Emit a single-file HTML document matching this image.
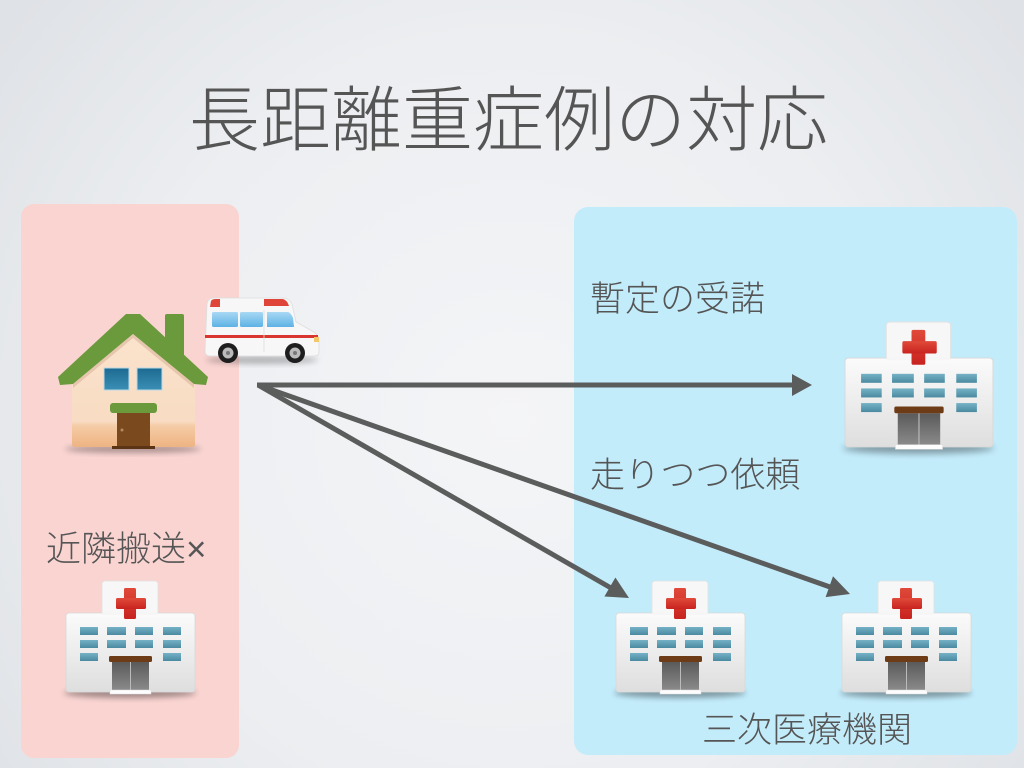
<!DOCTYPE html>
<html><head><meta charset="utf-8"><style>
html,body{margin:0;padding:0;width:1024px;height:768px;overflow:hidden;}
svg{display:block;}
text{font-family:"Liberation Sans","Noto Sans CJK JP",sans-serif;fill:#555;font-weight:300;}
</style></head><body>
<svg width="1024" height="768" viewBox="0 0 1024 768" xmlns="http://www.w3.org/2000/svg">
<defs>
<radialGradient id="bg" cx="512" cy="420" r="640" gradientUnits="userSpaceOnUse">
<stop offset="0" stop-color="#f4f5f7"/><stop offset="0.6" stop-color="#eceef1"/><stop offset="1" stop-color="#dfe2e6"/>
</radialGradient>
<linearGradient id="hb" x1="0" y1="0" x2="0" y2="1"><stop offset="0" stop-color="#fbfbfb"/><stop offset="1" stop-color="#dedede"/></linearGradient>
<linearGradient id="hw" x1="0" y1="0" x2="0" y2="1"><stop offset="0" stop-color="#75b2c6"/><stop offset="1" stop-color="#4a8aa0"/></linearGradient>
<linearGradient id="hd" x1="0" y1="0" x2="0" y2="1"><stop offset="0" stop-color="#5a5a5a"/><stop offset="1" stop-color="#8a8a8a"/></linearGradient>
<linearGradient id="hc" x1="0" y1="0" x2="0" y2="1"><stop offset="0" stop-color="#e04a3a"/><stop offset="1" stop-color="#c8231f"/></linearGradient>
<linearGradient id="wall" gradientUnits="userSpaceOnUse" x1="0" y1="330" x2="0" y2="447"><stop offset="0" stop-color="#fbe3cd"/><stop offset="0.78" stop-color="#f8dcc3"/><stop offset="0.82" stop-color="#f5cca6"/><stop offset="1" stop-color="#eeb382"/></linearGradient>
<linearGradient id="hwin" x1="0" y1="0" x2="0" y2="1"><stop offset="0" stop-color="#1d6a92"/><stop offset="1" stop-color="#3a8fb5"/></linearGradient>
<linearGradient id="awin" x1="0" y1="0" x2="0" y2="1"><stop offset="0" stop-color="#a8d8f4"/><stop offset="1" stop-color="#5eb2e4"/></linearGradient>
<filter id="sh" x="-20%" y="-50%" width="140%" height="200%"><feGaussianBlur stdDeviation="3"/></filter>
<g id="hosp">
<ellipse cx="64" cy="112" rx="66" ry="5" fill="#000" opacity="0.35" filter="url(#sh)"/>
<rect x="36" y="0" width="56" height="40" rx="3" fill="#f7f7f7" stroke="#e2e2e2" stroke-width="0.8"/>
<rect x="0" y="32" width="129" height="79" rx="3" fill="url(#hb)" stroke="#d8d8d8" stroke-width="0.8"/>
<rect x="36.4" y="31" width="55.2" height="3" fill="#f6f6f6"/>
<rect x="58" y="7" width="12" height="31" rx="1.5" fill="url(#hc)"/>
<rect x="50" y="17" width="30" height="11" rx="1.5" fill="url(#hc)"/>
<g fill="url(#hw)">
<rect x="14" y="46" width="18" height="8"/><rect x="41" y="46" width="19" height="8"/><rect x="69" y="46" width="18" height="8"/><rect x="97" y="46" width="18" height="8"/>
<rect x="14" y="59" width="18" height="8"/><rect x="41" y="59" width="19" height="8"/><rect x="69" y="59" width="18" height="8"/><rect x="97" y="59" width="18" height="8"/>
<rect x="14" y="72" width="18" height="8"/><rect x="97" y="72" width="18" height="8"/>
</g>
<rect x="46" y="81" width="37" height="28" fill="url(#hd)"/>
<line x1="64.5" y1="81" x2="64.5" y2="109" stroke="#bbb" stroke-width="1"/>
<rect x="43" y="75" width="43" height="6" rx="1.5" fill="#6e3b17"/>
<rect x="44" y="109" width="41" height="4" fill="#fdfdfd" stroke="#ddd" stroke-width="0.5"/>
</g>
</defs>
<rect width="1024" height="768" fill="url(#bg)"/>
<rect x="21" y="204" width="218" height="554" rx="13" fill="#f9d4d1"/>
<rect x="574" y="207" width="443" height="548" rx="14" fill="#c3ecfb"/>

<text x="189" y="145" font-size="71">長距離重症例の対応</text>

<!-- House -->
<g>
<ellipse cx="133" cy="449" rx="68" ry="4" fill="#000" opacity="0.3" filter="url(#sh)"/>
<rect x="165" y="314" width="19" height="50" rx="2" fill="#6a9a3c"/>
<path d="M72,385 L133,330 L195,385 L195,444 Q195,447 192,447 L75,447 Q72,447 72,444 Z" fill="url(#wall)"/>
<polygon points="58,377 126,314 140,314 208,377 206,385 194,384 133,334 73,384 60,385" fill="#6a9a3c"/>
<polygon points="73,384 133,334 194,384 194,388 133,338 73,388" fill="#d8b49a" opacity="0.6"/>
<rect x="104" y="368" width="25" height="22" fill="url(#hwin)" stroke="#bcd8e6" stroke-width="1"/>
<rect x="137" y="368" width="25" height="22" fill="url(#hwin)" stroke="#bcd8e6" stroke-width="1"/>
<rect x="117" y="412" width="33" height="36" fill="#7a4a1e"/>
<circle cx="122" cy="430" r="1.5" fill="#b08a60"/>
<rect x="110" y="403" width="47" height="10" rx="3" fill="#6a9a3c"/>
<rect x="112" y="446" width="43" height="3" fill="#5a3414"/>
</g>

<!-- Ambulance -->
<g>
<ellipse cx="262" cy="360" rx="56" ry="4" fill="#000" opacity="0.25" filter="url(#sh)"/>
<path d="M207,304 Q208,298 214,298 L283,298 Q289,298 292,304 L296,322 L314,332 Q319,335 319,342 L319,352 Q319,356 314,356 L210,356 Q205,356 205,351 Z" fill="#f7f7f7" stroke="#ddd" stroke-width="0.8"/>
<path d="M211,301 Q212,299 216,299 L220,299 L220,307 L210,307 Z" fill="#e0453a"/>
<path d="M264,299 L283,299 Q287,300 289,306 L264,306 Z" fill="#e0453a"/>
<rect x="212" y="312" width="26" height="15" rx="1.5" fill="url(#awin)"/>
<rect x="240" y="312" width="23" height="15" rx="1.5" fill="url(#awin)"/>
<path d="M267,312 L288,312 Q291,313 293,318 L294,327 L267,327 Z" fill="url(#awin)"/>
<rect x="205" y="335" width="113" height="3" fill="#d9362f"/>
<rect x="314" y="337" width="5" height="5" fill="#f2c86a"/>
<line x1="264" y1="310" x2="264" y2="352" stroke="#ddd" stroke-width="0.8"/>
<circle cx="228" cy="353" r="10" fill="#1e1e1e"/><circle cx="228" cy="353" r="5.5" fill="#bbb"/><circle cx="228" cy="353" r="2" fill="#777"/>
<circle cx="295" cy="353" r="10" fill="#1e1e1e"/><circle cx="295" cy="353" r="5.5" fill="#bbb"/><circle cx="295" cy="353" r="2" fill="#777"/>
</g>

<!-- Hospitals -->
<use href="#hosp" transform="translate(66,581)"/>
<use href="#hosp" transform="translate(616,581)"/>
<use href="#hosp" transform="translate(842,581)"/>
<use href="#hosp" transform="translate(845,322) scale(1.147,1.126)"/>

<!-- Arrows -->
<g stroke="#5b5d5d" stroke-width="5" fill="none" stroke-linecap="butt">
<line x1="257" y1="385" x2="794" y2="385"/>
<line x1="258" y1="385" x2="611" y2="588"/>
<line x1="258" y1="385" x2="830" y2="587"/>
</g>
<g fill="#5b5d5d">
<polygon points="792,374 812,385 792,396"/>
<polygon points="604.4,596.5 615.4,577.5 629,598"/>
<polygon points="825.6,597.1 833,576.3 850,594"/>
</g>

<text x="590" y="311" font-size="35">暫定の受諾</text>
<text x="590" y="487" font-size="35">走りつつ依頼</text>
<text x="46" y="561" font-size="35">近隣搬送×</text>
<text x="702" y="742" font-size="35">三次医療機関</text>
</svg>
</body></html>
